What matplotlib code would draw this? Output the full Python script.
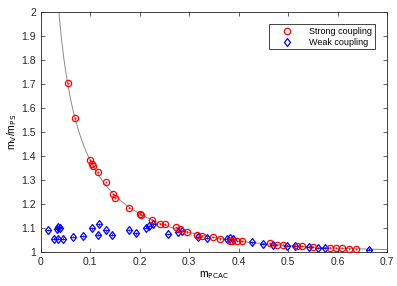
import numpy as np
import matplotlib.pyplot as plt

plt.rcParams['font.family'] = ['Liberation Sans', 'DejaVu Sans']

# --- data ---
strong_x = [0.054, 0.069, 0.099, 0.104, 0.105, 0.115, 0.131, 0.145, 0.150, 0.179,
            0.200, 0.202, 0.224, 0.241, 0.251, 0.274, 0.281, 0.296, 0.316, 0.325,
            0.349, 0.362, 0.382, 0.386, 0.397, 0.406, 0.463, 0.478, 0.490, 0.517,
            0.527, 0.551, 0.585, 0.596, 0.608, 0.624, 0.637]
strong_y = [1.704, 1.559, 1.382, 1.365, 1.357, 1.333, 1.290, 1.241, 1.226, 1.185,
            1.158, 1.154, 1.133, 1.116, 1.116, 1.102, 1.094, 1.084, 1.072, 1.066,
            1.061, 1.054, 1.047, 1.046, 1.045, 1.044, 1.036, 1.030, 1.029, 1.026,
            1.024, 1.022, 1.018, 1.017, 1.015, 1.013, 1.012]

weak_x = [0.015, 0.032, 0.035, 0.038, 0.027, 0.035, 0.044, 0.064, 0.086, 0.104,
          0.117, 0.115, 0.131, 0.144, 0.179, 0.192, 0.212, 0.219, 0.226, 0.257,
          0.278, 0.285, 0.318, 0.335, 0.377, 0.382, 0.388, 0.427, 0.450, 0.470,
          0.498, 0.514, 0.542, 0.561, 0.574, 0.664]
weak_y = [1.091, 1.094, 1.105, 1.100, 1.056, 1.056, 1.056, 1.062, 1.066, 1.098,
          1.115, 1.072, 1.090, 1.072, 1.091, 1.077, 1.101, 1.108, 1.115, 1.075,
          1.082, 1.088, 1.062, 1.060, 1.052, 1.058, 1.052, 1.040, 1.034, 1.030,
          1.026, 1.024, 1.021, 1.017, 1.017, 1.010]

# fit curve through strong coupling points: ln(y-1) = a + b*ln(x) + c*x
sx = np.array(strong_x)
sy = np.array(strong_y)
A = np.column_stack([np.ones_like(sx), np.log(sx), sx])
coef, *_ = np.linalg.lstsq(A, np.log(sy - 1), rcond=None)
xf = np.linspace(0.025, 0.7, 500)
yf = 1 + np.exp(coef[0] + coef[1] * np.log(xf) + coef[2] * xf)

fig = plt.figure(figsize=(3.97, 2.86), dpi=100)
ax = fig.add_axes([0.103, 0.119, 0.872, 0.840])

ax.plot(xf, yf, color='#8c8c8c', lw=0.7, zorder=1)
ax.errorbar(strong_x, strong_y, yerr=0.004, xerr=0.002, fmt='o', ms=4.5, mfc='none',
            mec='red', mew=0.9, ecolor='red', elinewidth=0.6, capsize=0,
            label='Strong coupling', zorder=3)
ax.errorbar(weak_x, weak_y, yerr=0.005, xerr=0.006, fmt='d', ms=4.5, mfc='none',
            mec='blue', mew=0.9, ecolor='blue', elinewidth=0.6, capsize=0,
            label='Weak coupling', zorder=2)

ax.set_xlim(0, 0.7)
ax.set_ylim(1, 2)
ax.set_xticks(np.arange(0, 0.71, 0.1))
ax.set_xticklabels(['0', '0.1', '0.2', '0.3', '0.4', '0.5', '0.6', '0.7'])
ax.set_yticks(np.arange(1, 2.01, 0.1))
ax.set_yticklabels(['1', '1.1', '1.2', '1.3', '1.4', '1.5', '1.6', '1.7', '1.8', '1.9', '2'])
ax.tick_params(direction='in', top=True, right=True, labelsize=7.5, length=3, width=0.5,
               colors='#262626')
for s in ax.spines.values():
    s.set_linewidth(0.6)
    s.set_color('#262626')

ax.set_xlabel(r'm$_{\rm PCAC}$', fontsize=7.5, labelpad=2)
ax.set_ylabel(r'm$_{\rm V}$/m$_{\rm PS}$', fontsize=7.5, labelpad=2)

handles, labels = ax.get_legend_handles_labels()
handles = [h[0] for h in handles]
leg = ax.legend(handles, labels, loc='upper right', fontsize=6.5, fancybox=False,
                framealpha=1, edgecolor='#262626', borderpad=0.3, handletextpad=0.8,
                labelspacing=0.2, handlelength=3.3, bbox_to_anchor=(0.977, 0.967))
leg.get_frame().set_linewidth(0.6)

fig.savefig('out.png', dpi=100)
